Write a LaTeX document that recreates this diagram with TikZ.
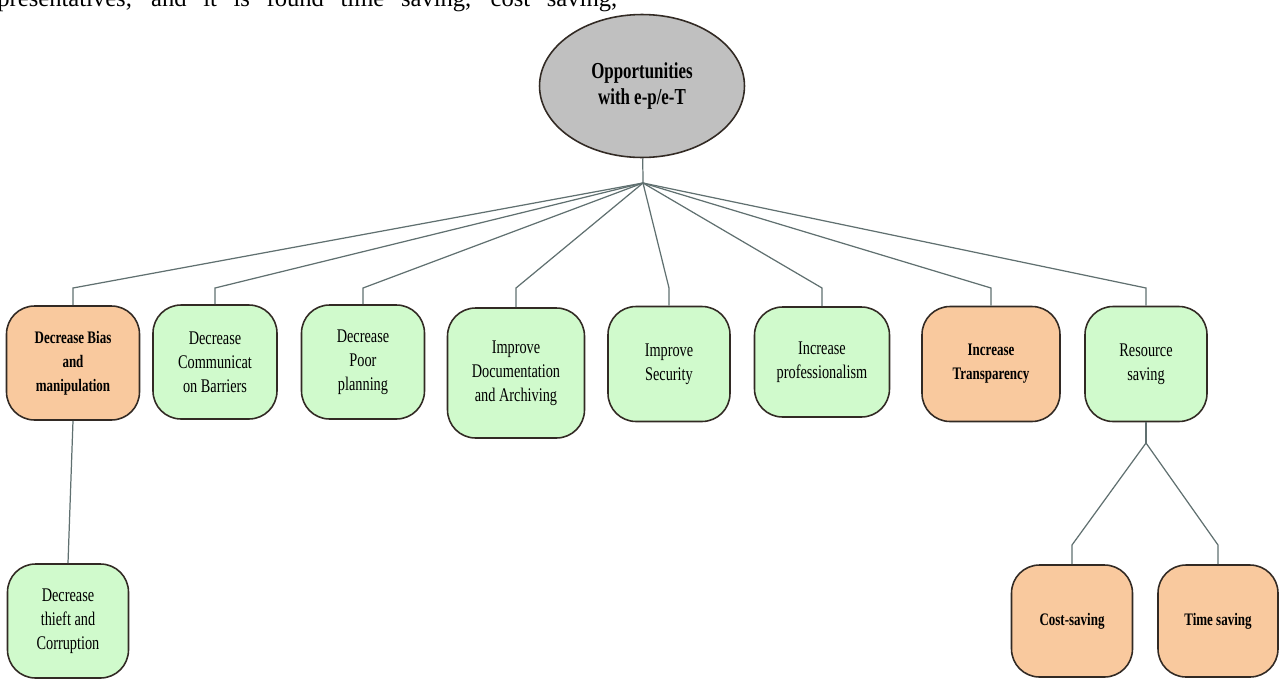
\documentclass[tikz,border=0pt]{standalone}
\usepackage{fontspec}
\setmainfont{Liberation Serif}
\newfontfamily\boxfont{Liberation Serif}[FakeStretch=0.74]
\definecolor{peach}{RGB}{249,201,158}
\definecolor{mint}{RGB}{208,250,204}
\definecolor{oppgray}{RGB}{192,192,192}
\definecolor{linkcol}{RGB}{96,112,112}
\definecolor{edgecol}{RGB}{50,42,36}
\usetikzlibrary{shapes.geometric}
\usetikzlibrary{calc}

\begin{document}
\begin{tikzpicture}[x=0.02cm, y=-0.02cm,
    oppbox/.style={draw=edgecol, line width=0.9pt, rounded corners=0.56cm, align=center,
        minimum width=2.5cm, minimum height=2.28cm, inner sep=2pt,
        font=\boxfont\fontsize{11}{13.6}\selectfont},
    mintbox/.style={oppbox, fill=mint},
    peachbox/.style={oppbox, fill=peach, font=\boxfont\bfseries\fontsize{10}{13.6}\selectfont},
    link/.style={draw=linkcol, line width=0.7pt}]
    \useasboundingbox (0,0) rectangle (1279,680);

    % line of the page text above the figure
    \node[anchor=base west, inner sep=0pt, font=\fontsize{14}{16}\selectfont] (spill) at (-3,6)
        {\makebox[12.4cm][s]{presentatives, and it is found time saving, cost saving,}};

    \node[ellipse, draw=edgecol, fill=oppgray, line width=0.9pt, minimum width=4.1cm, minimum height=2.86cm,
        inner sep=0pt, align=center, font=\boxfont\bfseries\fontsize{13}{14.5}\selectfont]
        (root) at (642,86) {Opportunities\\with e-p/e-T};

    \node[peachbox, minimum width=2.66cm] (dbias) at (73,363) {Decrease Bias\\and\\manipulation};
    \node[mintbox, minimum width=2.48cm] (dcomm) at (215,362) {Decrease\\Communicat\\on Barriers};
    \node[mintbox, minimum width=2.46cm] (dplan) at (363,362) {Decrease\\Poor\\planning};
    \node[mintbox, minimum width=2.74cm, minimum height=2.6cm] (idoc) at (516,373) {Improve\\Documentation\\and Archiving};
    \node[mintbox, minimum width=2.44cm, minimum height=2.3cm] (isec) at (669,364) {Improve\\Security};
    \node[mintbox, minimum width=2.7cm, minimum height=2.2cm] (iprof) at (822,362) {Increase\\professionalism};
    \node[peachbox, minimum width=2.76cm, minimum height=2.3cm] (itrans) at (991,364) {Increase\\Transparency};
    \node[mintbox, minimum width=2.44cm, minimum height=2.3cm] (rsave) at (1146,364) {Resource\\saving};

    \node[mintbox, minimum width=2.42cm] (dthief) at (68,621) {Decrease\\thieft and\\Corruption};
    \node[peachbox, minimum width=2.42cm, minimum height=2.24cm] (csave) at (1072,621) {Cost-saving};
    \node[peachbox, minimum width=2.4cm, minimum height=2.24cm] (tsave) at (1218,621) {Time saving};

    \coordinate (hub) at (643,183);
    \coordinate (knee) at (0,288);
    \coordinate (fork) at (1146,443);
    \coordinate (knee2) at (0,545);

    \draw[link] (root) -- (hub);
    \foreach \n in {dbias,dcomm,dplan,idoc,isec,iprof,itrans,rsave}
        \draw[link] (hub) -- (\n.north |- knee) -- (\n.north);
    \draw[link] (dbias.south) -- (dthief.north);
    \draw[link] (rsave.south) -- (fork);
    \foreach \n in {csave,tsave}
        \draw[link] (fork) -- (\n.north |- knee2) -- (\n.north);
\end{tikzpicture}
\end{document}
